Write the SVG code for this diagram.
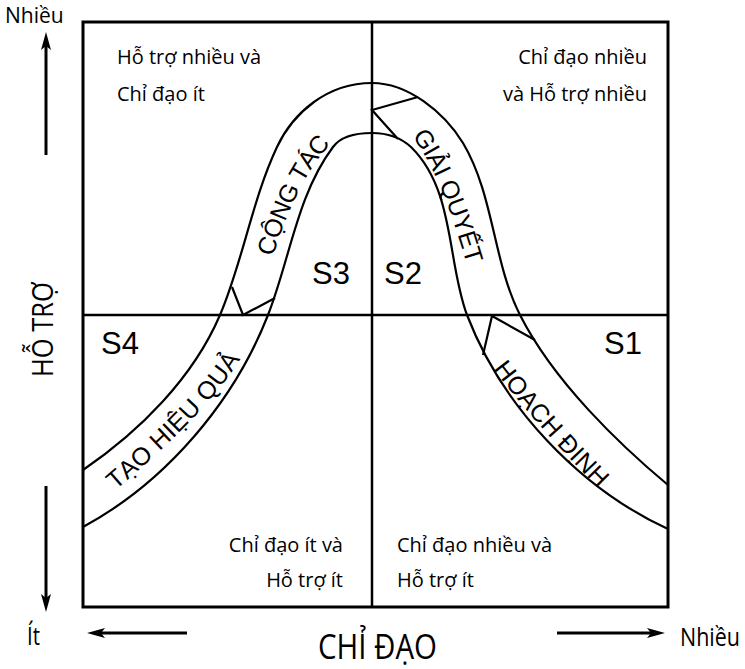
<svg xmlns="http://www.w3.org/2000/svg" width="745" height="669" viewBox="0 0 745 669">
<defs>
<style>
.box{fill:none;stroke:#000;stroke-width:3}
.axis{fill:none;stroke:#000;stroke-width:2.5}
.curve{fill:none;stroke:#000;stroke-width:2.2}
.arr{fill:none;stroke:#000;stroke-width:3;marker-end:url(#ah)}
.q{font-family:"Open Sans","DejaVu Sans",sans-serif;font-size:20px;fill:#000}
.e{text-anchor:end}
.ax{font-family:"Open Sans","DejaVu Sans",sans-serif;fill:#000}
.s{font-family:"Liberation Sans",Arial,sans-serif;font-size:31px;fill:#000}
.band{font-family:"Liberation Sans",Arial,sans-serif;font-size:25px;fill:#000;dominant-baseline:central;text-anchor:middle}
</style>
<marker id="ah" viewBox="0 0 18 10" refX="4" refY="5" markerWidth="18" markerHeight="10" markerUnits="userSpaceOnUse" orient="auto">
<path d="M0,0 L18,5 L0,10 L4,5 Z" fill="#000"/>
</marker>
<path id="p-congtac" d="M263,258 C277,214 295,167 327,135"/>
<path id="p-giaiquyet" d="M419,130 C447,169 462,217 476,263"/>
<path id="p-taohieuqua" d="M108,485 C152,447 205,400 234,352"/>
<path id="p-hoachdinh" d="M498,360 C531,404 569,446 608,485"/>
</defs>

<g id="frame">
<rect class="box" x="83" y="22" width="585" height="585"/>
<line class="axis" x1="372" y1="22" x2="372" y2="607"/>
<line class="axis" x1="83" y1="315" x2="668" y2="315"/>
</g>

<g id="connectors">
<path class="curve" d="M83,470 C140,431 193,378 220,315 C243,261 252,200 277,147 C293,113 327,83 372,83 C408,83 444,112 463,143 C494,195 493,262 520,315 C554,382 620,445 668,485"/>
<path class="curve" d="M83,527 C166,482 234,402 268,315 C290,259 297,195 333,147 C341,136 358,133 372,133 C386,133 400,137 411,147 C455,190 447,262 467,315 C502,406 579,488 668,529"/>
<path class="curve" d="M418,97 L372,110 L398,139"/>
<path class="curve" d="M232,287 L243,315 L275,298"/>
<path class="curve" d="M483,355 L492,316 L535,340"/>
<line class="arr" x1="46" y1="155" x2="46" y2="46"/>
<line class="arr" x1="46" y1="486" x2="46" y2="598"/>
<line class="arr" x1="187" y1="633" x2="101" y2="633"/>
<line class="arr" x1="557" y1="633" x2="651" y2="633"/>
</g>

<g id="q-s3-text">
<text class="q" x="117" y="64">Hỗ trợ nhiều và</text>
<text class="q" x="117" y="101">Chỉ đạo ít</text>
</g>
<g id="q-s2-text">
<text class="q e" x="647" y="64">Chỉ đạo nhiều</text>
<text class="q e" x="647" y="101">và Hỗ trợ nhiều</text>
</g>
<g id="q-s4-text">
<text class="q e" x="343" y="552">Chỉ đạo ít và</text>
<text class="q e" x="343" y="587">Hỗ trợ ít</text>
</g>
<g id="q-s1-text">
<text class="q" x="397" y="552">Chỉ đạo nhiều và</text>
<text class="q" x="397" y="587">Hỗ trợ ít</text>
</g>

<g id="node-s1"><text class="s" x="604" y="354">S1</text></g>
<g id="node-s2"><text class="s" x="384" y="284">S2</text></g>
<g id="node-s3"><text class="s" x="312" y="284">S3</text></g>
<g id="node-s4"><text class="s" x="101" y="354">S4</text></g>

<g id="band-congtac"><text class="band"><textPath href="#p-congtac" startOffset="50%">CỘNG TÁC</textPath></text></g>
<g id="band-giaiquyet"><text class="band"><textPath href="#p-giaiquyet" startOffset="50%">GIẢI QUYẾT</textPath></text></g>
<g id="band-taohieuqua"><text class="band"><textPath href="#p-taohieuqua" startOffset="50%">TẠO HIỆU QUẢ</textPath></text></g>
<g id="band-hoachdinh"><text class="band"><textPath href="#p-hoachdinh" startOffset="50%">HOẠCH ĐỊNH</textPath></text></g>

<g id="axis-labels">
<text class="ax" x="5" y="23" font-size="21">Nhiều</text>
<text class="ax" x="27" y="645" font-size="25" textLength="13" lengthAdjust="spacingAndGlyphs">Ít</text>
<text class="ax" x="680" y="646" font-size="26" textLength="60" lengthAdjust="spacingAndGlyphs">Nhiều</text>
<text class="ax" x="318" y="659" font-size="34" textLength="119" lengthAdjust="spacingAndGlyphs">CHỈ ĐẠO</text>
<text class="ax" transform="translate(53,377) rotate(-90)" font-size="29" textLength="95" lengthAdjust="spacingAndGlyphs">HỖ TRỢ</text>
</g>
</svg>
